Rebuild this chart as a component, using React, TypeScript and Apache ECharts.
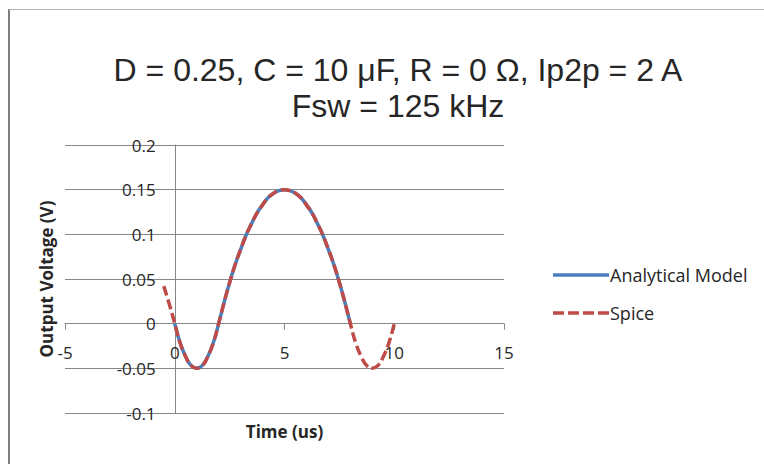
import React, { useEffect, useRef } from "react";
import * as echarts from "echarts";

const titleLines = ["D = 0.25, C = 10 μF, R = 0 Ω, Ip2p = 2 A", "Fsw = 125 kHz"];
const xAxisName = "Time (us)";
const yAxisName = "Output Voltage (V)";
const seriesNames = ["Analytical Model", "Spice"];

const modelTime = [0, 0.25, 0.5, 0.75, 1, 1.25, 1.5, 1.75, 2, 2.25, 2.5, 2.75, 3, 3.25, 3.5, 3.75, 4, 4.25, 4.5, 4.75, 5, 5.25, 5.5, 5.75, 6, 6.25, 6.5, 6.75, 7, 7.25, 7.5, 7.75, 8];
const modelV = [0, -0.022, -0.037, -0.047, -0.05, -0.047, -0.037, -0.022, 0, 0.024, 0.046, 0.066, 0.083, 0.099, 0.112, 0.124, 0.133, 0.141, 0.146, 0.149, 0.15, 0.149, 0.146, 0.141, 0.133, 0.124, 0.112, 0.099, 0.083, 0.066, 0.046, 0.024, 0];

const spiceTime = [-0.5, -0.25, 0, 0.25, 0.5, 0.75, 1, 1.25, 1.5, 1.75, 2, 2.25, 2.5, 2.75, 3, 3.25, 3.5, 3.75, 4, 4.25, 4.5, 4.75, 5, 5.25, 5.5, 5.75, 6, 6.25, 6.5, 6.75, 7, 7.25, 7.5, 7.75, 8, 8.25, 8.5, 8.75, 9, 9.25, 9.5, 9.75, 10];
const spiceV = [0.042, 0.022, 0, -0.022, -0.037, -0.047, -0.05, -0.047, -0.037, -0.022, 0, 0.024, 0.046, 0.066, 0.083, 0.099, 0.112, 0.124, 0.133, 0.141, 0.146, 0.149, 0.15, 0.149, 0.146, 0.141, 0.133, 0.124, 0.112, 0.099, 0.083, 0.066, 0.046, 0.024, 0, -0.022, -0.037, -0.047, -0.05, -0.047, -0.037, -0.022, 0];

const xMin = -5, xMax = 15, xStep = 5;
const yMin = -0.1, yMax = 0.2, yStep = 0.05;

export default function App() {
  const ref = useRef<HTMLDivElement>(null);
  useEffect(() => {
    if (!ref.current) return;
    const chart = echarts.init(ref.current, null, { renderer: "svg" });
    const grey = "#868686";
    const gLeft = 65, gRight = 260, gTop = 145, gBottom = 51;
    const gW = 764 - gLeft - gRight;
    const gH = 464 - gTop - gBottom;
    // shift the axes so they cross at zero (Excel style)
    const yAxisOffset = -((0 - xMin) / (xMax - xMin)) * gW;
    const xAxisOffset = -((0 - yMin) / (yMax - yMin)) * gH;
    chart.setOption({
      animation: false,
      backgroundColor: "#ffffff",
      title: {
        text: titleLines.join("\n"),
        left: 393,
        top: 47,
        textAlign: "center",
        textStyle: {
          fontFamily: "Liberation Sans",
          fontSize: 32,
          fontWeight: "normal",
          lineHeight: 36,
          color: "#262626",
        },
      },
      grid: { left: gLeft, right: gRight, top: gTop, bottom: gBottom, containLabel: false, outerBoundsMode: "none" },
      legend: {
        orient: "vertical",
        left: 548,
        top: 261,
        itemWidth: 56,
        itemHeight: 3.5,
        itemGap: 20,
        data: [
          { name: seriesNames[0], icon: "path://M0,0h56v3.5h-56z" },
          { name: seriesNames[1], icon: "path://M0,0h11v3.5h-11z M15,0h11v3.5h-11z M30,0h11v3.5h-11z M45,0h11v3.5h-11z" },
        ],
        textStyle: { fontFamily: "Open Sans", fontSize: 18, color: "#262626", padding: [0, 0, 0, -4] },
      },
      xAxis: {
        type: "value",
        min: xMin,
        max: xMax,
        interval: xStep,
        offset: xAxisOffset,
        name: xAxisName,
        nameLocation: "middle",
        nameGap: 99,
        nameTextStyle: { fontFamily: "Open Sans", fontSize: 17, fontWeight: "bold", color: "#262626" },
        axisLine: { onZero: false, lineStyle: { color: grey, width: 1 } },
        axisTick: { show: true, length: 6, inside: false, lineStyle: { color: grey } },
        axisLabel: { fontFamily: "Open Sans", fontSize: 17, color: "#262626", margin: 20 },
        splitLine: { show: false },
      },
      yAxis: {
        type: "value",
        min: yMin,
        max: yMax,
        interval: yStep,
        offset: yAxisOffset,
        name: yAxisName,
        nameLocation: "middle",
        nameGap: 120,
        nameRotate: 90,
        nameTextStyle: { fontFamily: "Open Sans", fontSize: 17, fontWeight: "bold", color: "#262626" },
        axisLine: { show: true, onZero: false, lineStyle: { color: grey, width: 1 } },
        axisTick: { show: false },
        axisLabel: { fontFamily: "Open Sans", fontSize: 17, color: "#262626", margin: 19 },
        splitLine: { show: true, lineStyle: { color: grey, width: 1 } },
      },
      series: [
        {
          name: seriesNames[0],
          type: "line",
          data: modelTime.map((t, i) => [t, modelV[i]]),
          smooth: true,
          showSymbol: false,
          symbol: "none",
          lineStyle: { color: "#4A7EBB", width: 3.5 },
          itemStyle: { color: "#4A7EBB" },
          z: 2,
        },
        {
          name: seriesNames[1],
          type: "line",
          data: spiceTime.map((t, i) => [t, spiceV[i]]),
          smooth: true,
          showSymbol: false,
          symbol: "none",
          lineStyle: { color: "#BE4B48", width: 3.5, type: [10, 4] },
          itemStyle: { color: "#BE4B48" },
          z: 3,
        },
      ],
      graphic: [
        { type: "line", shape: { x1: 9, y1: 9, x2: 9, y2: 464 }, style: { stroke: "#7f7f7f", lineWidth: 2 } },
        { type: "line", shape: { x1: 9, y1: 9.5, x2: 764, y2: 9.5 }, style: { stroke: "#b3b3b3", lineWidth: 1 } },
      ],
    });
    return () => chart.dispose();
  }, []);
  return (
    <div
      ref={ref}
      style={{ position: "fixed", left: 0, top: 0, width: 764, height: 464 }}
    />
  );
}
